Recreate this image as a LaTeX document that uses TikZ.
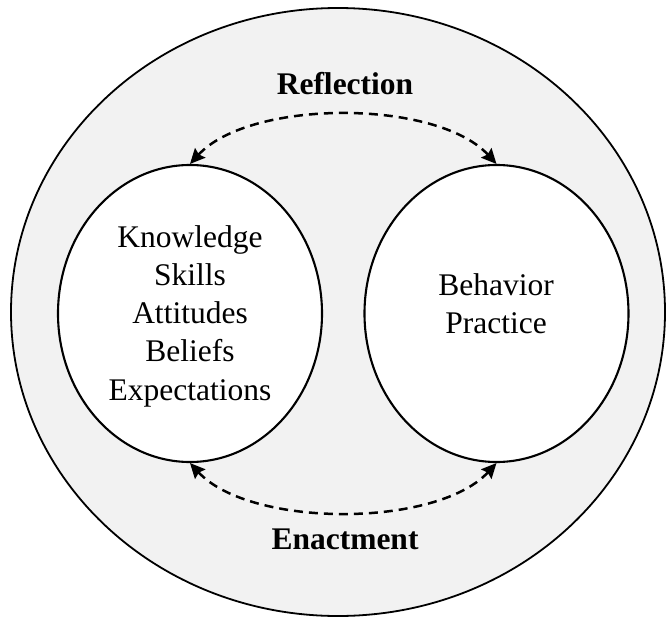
\documentclass[tikz,border=0pt]{standalone}
\usepackage{fontspec}
\setmainfont{Liberation Serif}
\usetikzlibrary{shapes.geometric,arrows.meta}
\definecolor{bggray}{HTML}{F2F2F2}
\begin{document}
\begin{tikzpicture}[x=1pt,y=-1pt,
  outerbox/.style={ellipse,draw,line width=1.8pt,fill=bggray,minimum width=654pt,minimum height=608pt,inner sep=0pt},
  innerbox/.style={ellipse,draw,line width=2.1pt,fill=white,minimum width=264pt,minimum height=297pt,inner sep=0pt},
  txt/.style={font=\fontsize{31.5}{38}\selectfont,inner sep=0pt,anchor=base},
  ttl/.style={font=\fontsize{31.5}{38}\selectfont\bfseries,inner sep=0pt,anchor=base},
  cyc/.style={line width=2.5pt,dash pattern=on 9pt off 6pt,{Stealth[length=15pt,width=14pt,inset=2pt]}-{Stealth[length=15pt,width=14pt,inset=2pt]}}
]
\useasboundingbox (0,0) rectangle (667,618);
\node[outerbox] (outer) at (338,312) {};
\node[innerbox] (L) at (190,313.5) {};
\node[innerbox] (R) at (496.5,313.5) {};
% left texts
\node[txt] (k) at (190,247) {Knowledge};
\node[txt] (s) at (190,285.3) {Skills};
\node[txt] (a) at (190,323.6) {Attitudes};
\node[txt] (b) at (190,361.9) {Beliefs};
\node[txt] (e) at (190,400.2) {Expectations};
% right texts
\node[txt] (bh) at (496,295) {Behavior};
\node[txt] (pr) at (496,333) {Practice};
% titles
\node[ttl] (refl) at (345,94.5) {Reflection};
\node[ttl] (enact) at (345,549) {Enactment};
% arrows
\draw[cyc] (L.north) .. controls +(60,-65) and +(-60,-65) .. (R.north);
\draw[cyc] (L.south) .. controls +(60,65) and +(-60,65) .. (R.south);
\end{tikzpicture}
\end{document}
